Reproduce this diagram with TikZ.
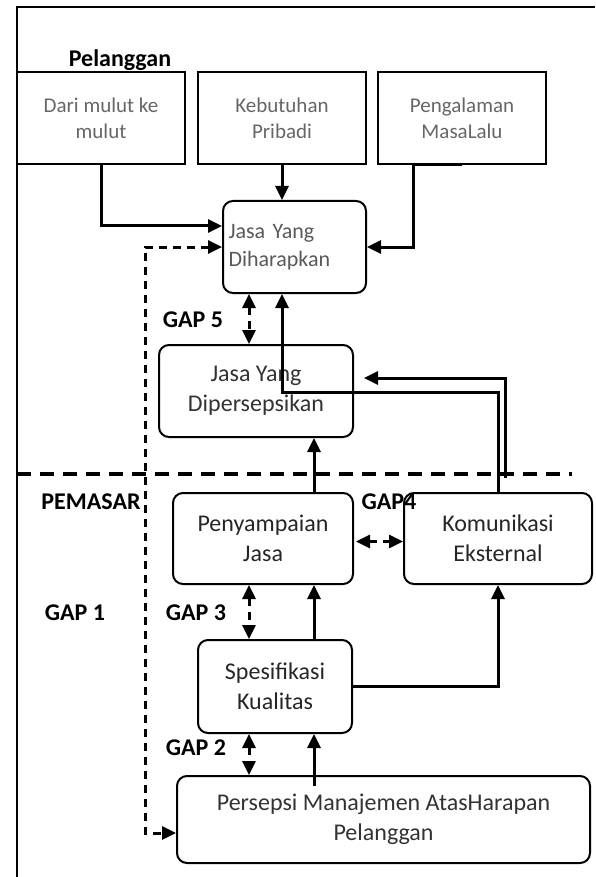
\documentclass[tikz,border=0pt]{standalone}
\usepackage{fontspec}
\setmainfont{Carlito}
\usepackage{tikz}
\usetikzlibrary{arrows.meta,calc}

\begin{document}
\begin{tikzpicture}[x=0.5pt, y=-0.5pt,
  txt/.style={font=\fontsize{12}{15}\selectfont},
  box/.style={draw, line width=1pt, align=center, inner sep=2pt, txt},
  rbox/.style={box, rounded corners=5pt},
  topbox/.style={box, minimum width=84pt, minimum height=46pt, text=black!60,
    font=\fontsize{10.5}{13}\selectfont},
  lbl/.style={font=\bfseries\fontsize{12}{14}\selectfont},
  conn/.style={line width=1.5pt, -{Triangle[length=7pt,width=6.5pt]}},
  gaparrow/.style={line width=1.5pt, dash pattern=on 4pt off 3pt,
    {Triangle[length=7pt,width=6.5pt]}-{Triangle[length=7pt,width=6.5pt]}}]
\useasboundingbox (0,0) rectangle (595,877);
\draw[line width=1pt] (595,7) -- (17,7) -- (17,877);
\draw[line width=2pt, dash pattern=on 7pt off 4.5pt] (17,474) -- (572,474);

% pelanggan
\node[lbl] (pelanggan) at (120,60) {Pelanggan};
\node[topbox] (mulut) at (101,118) {Dari mulut ke\\mulut};
\node[topbox] (pribadi) at (282,118) {Kebutuhan\\Pribadi};
\node[topbox] (masalalu) at (462,118) {Pengalaman\\MasaLalu};
\node[rbox, minimum height=46pt, text width=66pt, inner xsep=2.75pt, align=left, text=black!65,
  font=\fontsize{11}{14}\selectfont] (harap) at (294.5,247) {Jasa Yang\\Diharapkan};
\node[rbox, minimum width=97pt, minimum height=46pt, text=black!80] (persepsi) at (256,391) {Jasa Yang\\Dipersepsikan};

% pemasar
\node[lbl] (pemasar) at (91,502) {PEMASAR};
\node[rbox, minimum width=90pt, minimum height=45.5pt, text=black!85] (penyampaian) at (263,538.5) {Penyampaian\\Jasa};
\node[rbox, minimum width=94pt, minimum height=45.5pt, text=black!85] (komunikasi) at (498,538.5) {Komunikasi\\Eksternal};
\node[rbox, minimum width=77pt, minimum height=46.5pt, text=black!85] (spesifikasi) at (275,686.5) {Spesifikasi\\Kualitas};
\node[rbox, minimum width=206.5pt, minimum height=43.5pt, text=black!80] (manajemen) at (383.5,819.5) {Persepsi Manajemen AtasHarapan\\Pelanggan};

\node[lbl] (gap1) at (75,613) {GAP 1};
\node[lbl] (gap2) at (196,748) {GAP 2};
\node[lbl] (gap3) at (196,613) {GAP 3};
\node[lbl] (gap4) at (389,502) {GAP4};
\node[lbl] (gap5) at (193,320) {GAP 5};

\coordinate (g) at (249,0);
\coordinate (c) at (314,0);
\coordinate (kom2) at (505,478);

% arrows
\draw[conn] (mulut.south) |- ($(harap.west)+(0,-21)$);
\draw[conn] (pribadi.south) -- (pribadi.south |- harap.north);
\draw[conn] (masalalu.south) -- ++(-49,0) |- (harap.east);
\draw[gaparrow] (harap.west) -- ++(-77,0) |- ($(manajemen.west)+(0,13.5)$);
\foreach \a/\b in {harap/persepsi,penyampaian/spesifikasi,spesifikasi/manajemen}
  \draw[gaparrow] (g |- \a.south) -- (g |- \b.north);
\draw[gaparrow] ($(penyampaian.east)+(2,3)$) -- ($(komunikasi.west)+(0,3)$);
\draw[conn] (komunikasi.north) -- ++(0,-100) -| (pribadi.south |- harap.south);
\draw[conn] (kom2) |- ($(persepsi.east)+(10,-13)$);
\draw[conn] (c |- penyampaian.north) -- (c |- persepsi.south);
\draw[conn] (c |- spesifikasi.north) -- (c |- penyampaian.south);
\draw[conn] ($(c |- manajemen.north)+(0,11)$) -- (c |- spesifikasi.south);
\draw[conn] (spesifikasi.east) -| (komunikasi.south);
\end{tikzpicture}
\end{document}
